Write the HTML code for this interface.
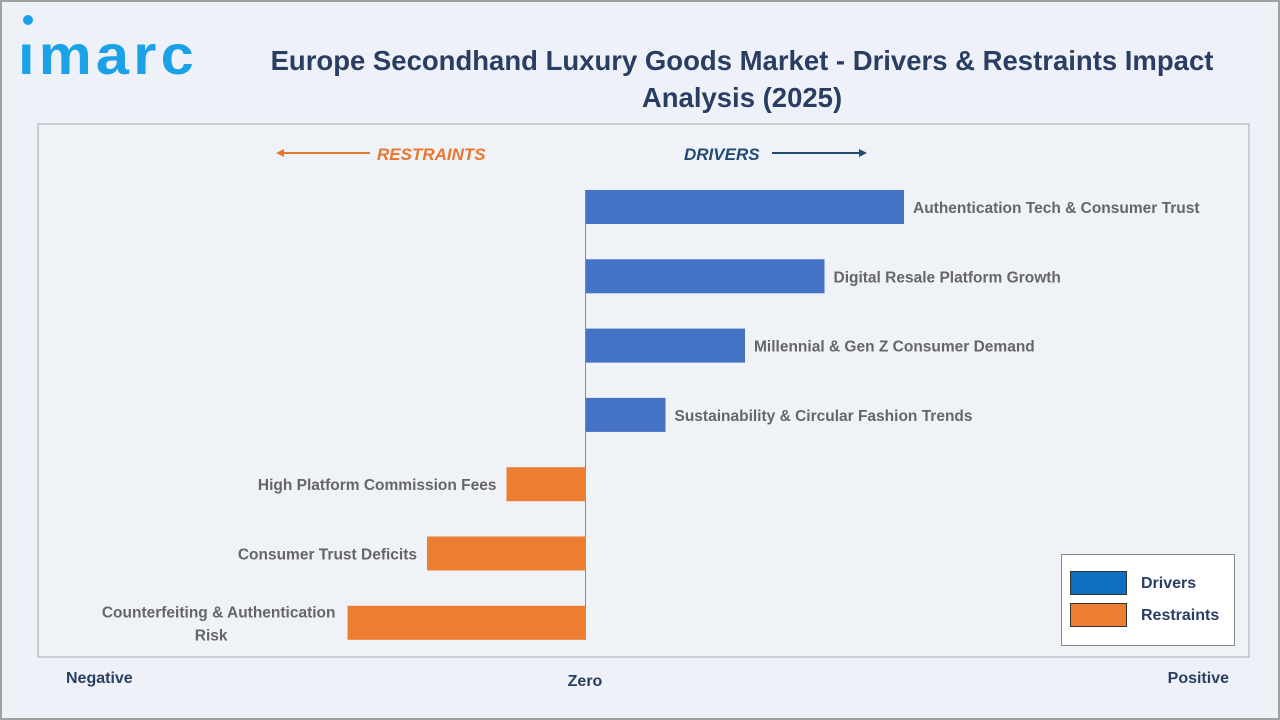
<!DOCTYPE html>
<html><head><meta charset="utf-8"><style>
body{margin:0;background:#fff}
svg{display:block;font-family:"Liberation Sans",sans-serif}
</style></head><body>
<svg id="chart" width="1280" height="720" viewBox="0 0 1280 720">
<rect x="1" y="1" width="1278" height="718" fill="#eef2f8" stroke="#a0a0a0" stroke-width="2"/>
<g>
<circle cx="28" cy="20" r="5" fill="#1ba1e8"/>
<text x="18" y="74" font-size="56" font-weight="bold" fill="#1ba1e8" letter-spacing="4" textLength="180" lengthAdjust="spacingAndGlyphs">ımarc</text>
</g>
<text x="742" y="70" text-anchor="middle" font-size="27.5" font-weight="bold" fill="#2a3e63">Europe Secondhand Luxury Goods Market - Drivers &amp; Restraints Impact</text>
<text x="742" y="107" text-anchor="middle" font-size="27.5" font-weight="bold" fill="#2a3e63">Analysis (2025)</text>
<rect x="38" y="124" width="1211" height="533" fill="#eff2f7" stroke="#a8aab0" stroke-width="1"/>
<g>
<line x1="280" y1="153" x2="370" y2="153" stroke="#e8772e" stroke-width="2"/>
<polygon points="276,153 284,149 284,157" fill="#e8772e"/>
<text x="377" y="160" font-size="17" font-weight="bold" font-style="italic" fill="#e8772e">RESTRAINTS</text>
</g>
<g>
<text x="684" y="160" font-size="17" font-weight="bold" font-style="italic" fill="#234a74">DRIVERS</text>
<line x1="772" y1="153" x2="860" y2="153" stroke="#234a74" stroke-width="2"/>
<polygon points="867,153 859,149 859,157" fill="#234a74"/>
</g>
<line x1="585.5" y1="190" x2="585.5" y2="640" stroke="#888" stroke-width="1"/>
<g id="bars"></g>
<text x="66" y="683" font-size="16" font-weight="bold" fill="#2a3e63">Negative</text>
<text x="585" y="686" text-anchor="middle" font-size="16" font-weight="bold" fill="#2a3e63">Zero</text>
<text x="1229" y="683" text-anchor="end" font-size="16" font-weight="bold" fill="#2a3e63">Positive</text>
<g>
<rect x="1061.5" y="554.5" width="173" height="91" fill="#fff" stroke="#888"/>
<rect x="1070.5" y="571.5" width="56" height="23" fill="#0e6fc0" stroke="#333"/>
<text x="1141" y="588" font-size="16" font-weight="bold" fill="#2a3e63">Drivers</text>
<rect x="1070.5" y="603.5" width="56" height="23" fill="#ed7d31" stroke="#333"/>
<text x="1141" y="620" font-size="16" font-weight="bold" fill="#2a3e63">Restraints</text>
</g>
</svg>
<script>
const categories = [
 ["Authentication Tech & Consumer Trust"],
 ["Digital Resale Platform Growth"],
 ["Millennial & Gen Z Consumer Demand"],
 ["Sustainability & Circular Fashion Trends"],
 ["High Platform Commission Fees"],
 ["Consumer Trust Deficits"],
 ["Counterfeiting & Authentication", "Risk"]
];
const values = [4, 3, 2, 1, -1, -2, -3];
const NS = "http://www.w3.org/2000/svg";
const zeroX = 586, unit = 79.5;
function xScale(v){ return zeroX + v * unit; }
function yScale(i){ return 207 + i * 69.3; }
const g = document.getElementById('bars');
values.forEach((v, i) => {
  const x0 = Math.min(xScale(0), xScale(v)), w = Math.abs(xScale(v) - xScale(0));
  const cy = yScale(i);
  const r = document.createElementNS(NS, 'rect');
  r.setAttribute('x', x0); r.setAttribute('y', cy - 17);
  r.setAttribute('width', w); r.setAttribute('height', 34);
  r.setAttribute('fill', v >= 0 ? '#4472c4' : '#ed7d31');
  
  
  g.appendChild(r);
  const t = document.createElementNS(NS, 'text');
  t.setAttribute('font-size', '15.5');
  t.setAttribute('font-weight', 'bold');
  t.setAttribute('fill', '#666');
  const lines = categories[i];
  if (v >= 0) { t.setAttribute('x', xScale(v) + 9); t.setAttribute('text-anchor', 'start'); }
  else { t.setAttribute('x', lines.length > 1 ? xScale(v) - 12 : xScale(v) - 10); t.setAttribute('text-anchor', 'end'); }
  const startY = cy + 6 - (lines.length - 1) * 11.5;
  lines.forEach((ln, k) => {
    const s = document.createElementNS(NS, 'tspan');
    s.setAttribute('y', startY + k * 23);
    if (lines.length > 1) s.setAttribute('x', k === 0 ? xScale(v) - 12 : xScale(v) - 120);
    s.textContent = ln;
    t.appendChild(s);
  });
  
  
  g.appendChild(t);
});
</script>
</body></html>
